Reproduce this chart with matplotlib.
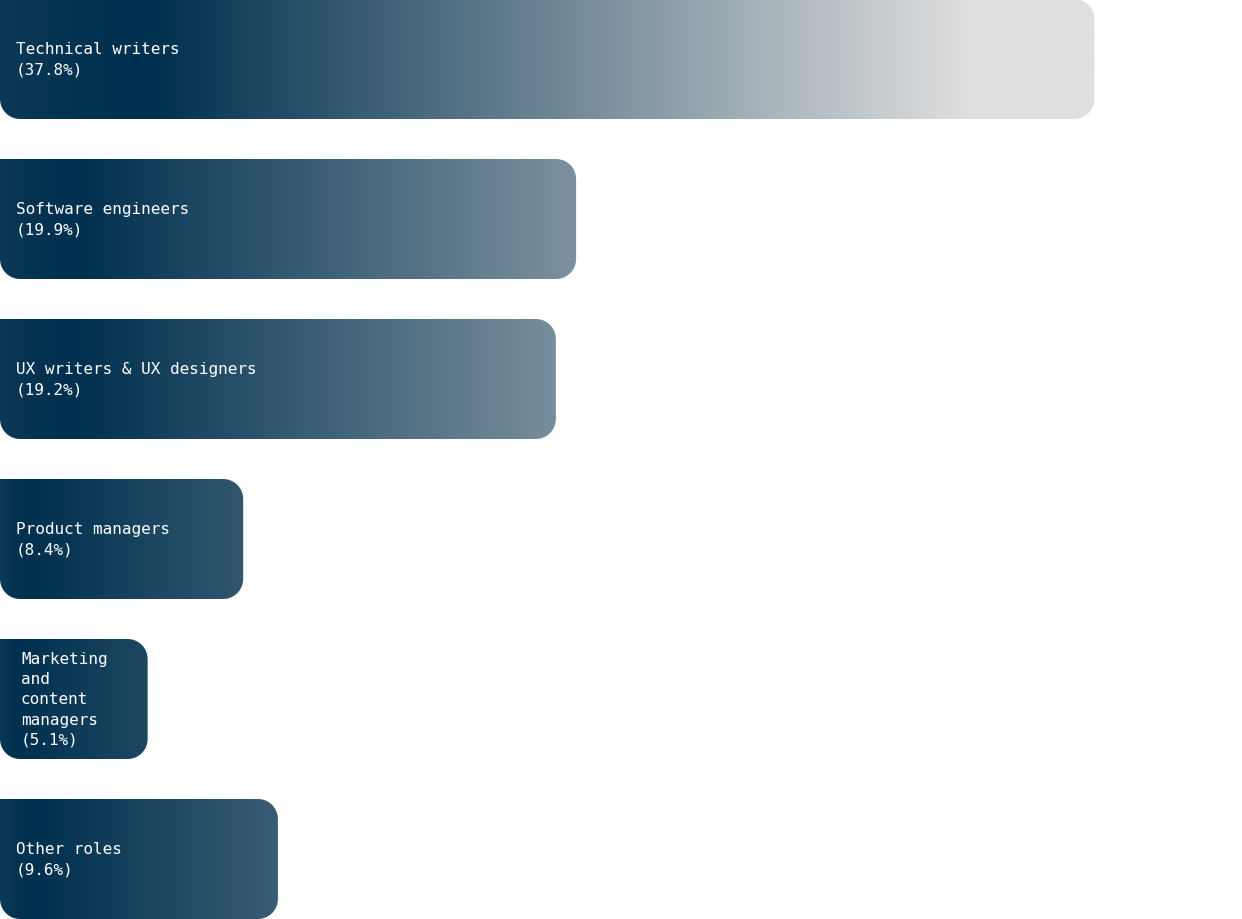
import numpy as np
import matplotlib
matplotlib.use("Agg")
import matplotlib.pyplot as plt
from matplotlib.path import Path
from matplotlib.patches import PathPatch
from matplotlib.colors import to_rgb

roles = ["Technical writers", "Software engineers", "UX writers & UX designers",
         "Product managers", "Marketing and content managers", "Other roles"]
shares = [37.8, 19.9, 19.2, 8.4, 5.1, 9.6]

W, H = 1242, 920
XMAX = 42.9
px_x = W / XMAX      # pixels per percent
px_y = 160.0         # pixels per row

dark = np.array(to_rgb("#00304f"))
light = np.array(to_rgb("#dfdfdf"))
start = dark + 0.05 * (light - dark)
LIGHT_AT = 33.5      # gradient reaches light grey here (percent units)


def bar_path(x0, x1, y0, y1, rx, ry):
    # top-left square, other three corners rounded (y grows downward on screen)
    t = np.linspace(0, np.pi / 2, 12)
    pts = [(x0, y0)]
    cx, cy = x1 - rx, y0 + ry
    pts += list(zip(cx + rx * np.sin(t), cy - ry * np.cos(t)))
    cx, cy = x1 - rx, y1 - ry
    pts += list(zip(cx + rx * np.cos(t), cy + ry * np.sin(t)))
    cx, cy = x0 + rx, y1 - ry
    pts += list(zip(cx - rx * np.sin(t), cy + ry * np.cos(t)))
    pts.append((x0, y0))
    codes = [Path.MOVETO] + [Path.LINETO] * (len(pts) - 2) + [Path.CLOSEPOLY]
    return Path(pts, codes)


def gradient(w, n=400):
    xs = np.linspace(0, w, n)
    xd = 0.14 * w
    out = np.zeros((1, n, 3))
    for k, x in enumerate(xs):
        if x < xd:
            f = x / xd
            f = np.sin(f * np.pi / 2)  # soften the turn at the darkest point
            c = start + f * (dark - start)
        else:
            f = np.clip((x - xd) / (LIGHT_AT - xd), 0, 1)
            c = dark + f * (light - dark)
        out[0, k] = c
    return out


fig = plt.figure(figsize=(W / 100, H / 100), dpi=100)
ax = fig.add_axes([0, 0, 1, 1])
ax.set_xlim(0, XMAX)
ax.set_ylim(5.375, -0.375)
ax.axis("off")

bh = 0.75
rx = 20 / px_x
ry = 20 / px_y
for i, (lab, v) in enumerate(zip(roles, shares)):
    y0, y1 = i - bh / 2, i + bh / 2
    patch = PathPatch(bar_path(0, v, y0, y1, rx, ry), facecolor="none", edgecolor="none")
    ax.add_patch(patch)
    im = ax.imshow(gradient(v), extent=(0, v, y1, y0), aspect="auto",
                   interpolation="bilinear", zorder=1)
    im.set_clip_path(patch)

    # wrap one word per line if the label does not fit in the bar
    if len(lab) * 9.6 > v * px_x - 32:
        txt = "\n".join(lab.split()) + "\n(%.1f%%)" % v
        tx = 21 / px_x
    else:
        txt = lab + "\n(%.1f%%)" % v
        tx = 16 / px_x
    ax.text(tx, i, txt, color="white", fontsize=11.5, family="DejaVu Sans Mono",
            va="center", ha="left", linespacing=1.42, zorder=3)

fig.savefig("out.png", dpi=100)
